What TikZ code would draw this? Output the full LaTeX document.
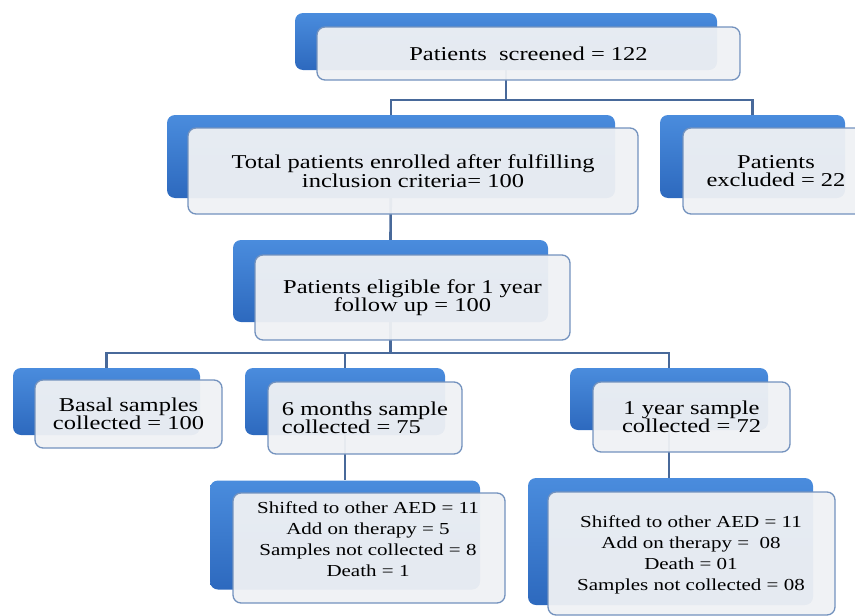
\documentclass[tikz,border=0pt]{standalone}
\usepackage{fontspec}
\setmainfont[FakeStretch=1.25]{Liberation Serif}
\usetikzlibrary{backgrounds}

\definecolor{blueTop}{HTML}{4A8CDD}
\definecolor{blueBot}{HTML}{2D69BE}
\definecolor{faceGrey}{HTML}{EFF1F4}
\definecolor{edgeBlue}{HTML}{7392BE}
\definecolor{linkBlue}{HTML}{48699A}

\tikzset{
  back/.style={rounded corners=8pt, top color=blueTop, bottom color=blueBot, inner sep=0pt},
  face/.style={draw=edgeBlue, line width=1.3pt, rounded corners=8pt, fill=faceGrey,
    fill opacity=0.95, text opacity=1, align=center, inner sep=0pt,
    font=\fontsize{19.6}{18.5}\selectfont},
  small/.style={font=\fontsize{16.8}{21}\selectfont, align=center},
  link/.style={draw=linkBlue, line width=2.6pt}
}

\begin{document}
\begin{tikzpicture}[x=1pt,y=-1pt]
  \useasboundingbox (0,0) rectangle (855,616);

  \coordinate (split1) at (0,100);
  \coordinate (split2) at (0,353);

  % blue boxes behind
  \node[back, minimum width=422pt, minimum height=57pt] (screenedB) at (506,41.5) {};
  \node[back, minimum width=448pt, minimum height=83pt] (enrolledB) at (391,156.5) {};
  \node[back, minimum width=185pt, minimum height=83pt] (excludedB) at (752.5,156.5) {};
  \node[back, minimum width=315pt, minimum height=82pt] (eligibleB) at (390.5,281) {};
  \node[back, minimum width=187pt, minimum height=67pt] (basalB) at (106.5,401.5) {};
  \node[back, minimum width=200pt, minimum height=67pt] (sixmonthB) at (345,401.5) {};
  \node[back, minimum width=198pt, minimum height=62pt] (oneyearB) at (669,399) {};
  \node[back, minimum width=270pt, minimum height=109pt] (sixlossB) at (345,535) {};
  \node[back, minimum width=285pt, minimum height=127pt] (yearlossB) at (670.5,541.5) {};

  % text boxes
  \node[face, minimum width=423pt, minimum height=53pt]
    (screened) at (528.5,53.5) {Patients~ screened = 122};
  \node[face, minimum width=450pt, minimum height=86pt] (enrolled) at (413,171)
    {Total patients enrolled after fulfilling\\inclusion criteria= 100};
  \node[face, minimum width=186pt, minimum height=86pt] (excluded) at (776,171)
    {Patients\\excluded = 22};
  \node[face, minimum width=315pt, minimum height=85pt] (eligible) at (412.5,297.5)
    {Patients eligible for 1 year\\follow up = 100};
  \node[face, minimum width=187pt, minimum height=68pt] (basal) at (128.5,414)
    {Basal samples\\collected = 100};
  \node[face, minimum width=194pt, minimum height=72pt, align=left] (sixmonth) at (365,418)
    {6 months sample\\collected = 75};
  \node[face, minimum width=197pt, minimum height=70pt] (oneyear) at (691.5,417)
    {1 year sample\\collected = 72};
  \node[face, minimum width=272pt, minimum height=110pt] (sixloss) at (369,548) {};
  \node[small] (sixlossText) at (368,539)
    {Shifted to other AED = 11\\Add on therapy = 5\\Samples not collected = 8\\Death = 1};
  \node[face, minimum width=287pt, minimum height=123pt] (yearloss) at (691.5,553.5) {};
  \node[small] (yearlossText) at (691,555)
    {Shifted to other AED = 11\\Add on therapy =~ 08\\Death = 01\\Samples not collected = 08};

  % connectors
  \begin{scope}[on background layer]
    \draw[link] (screenedB.center) -- (screenedB.center |- split1);
    \draw[link] (enrolledB.north) -- (enrolledB.north |- split1)
      -- (excludedB.north |- split1) -- (excludedB.north);
    \draw[link] (enrolledB.center) -- (eligibleB.north);
    \draw[link] (eligibleB.center) -- (eligibleB.center |- split2);
    \draw[link] (basalB.north) -- (basalB.north |- split2)
      -- (oneyearB.north |- split2) -- (oneyearB.north);
    \draw[link] (sixmonthB.north) -- (sixmonthB.north |- split2);
    \draw[link] (sixmonthB.center) -- (sixlossB.north);
    \draw[link] (oneyearB.center) -- (oneyearB.center |- yearlossB.north);
  \end{scope}
\end{tikzpicture}
\end{document}
